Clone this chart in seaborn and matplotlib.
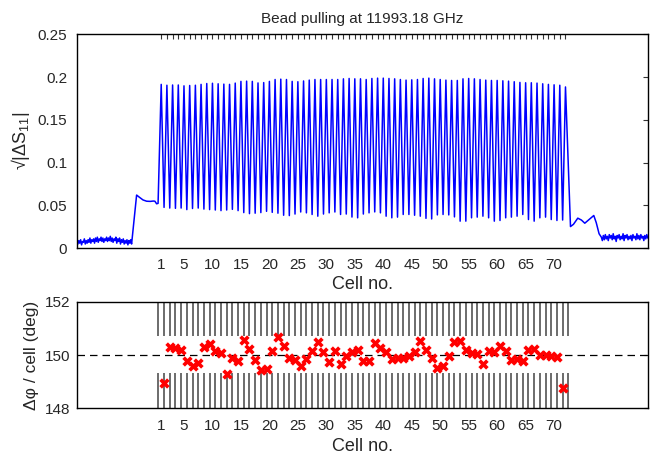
import numpy as np
import pandas as pd
import matplotlib
matplotlib.use("Agg")
import matplotlib.pyplot as plt
import seaborn as sns

# ========================
# DATA
# ========================
cells = list(range(1, 73))

# peak of |dS11|^0.5 in every cell (1..72)
peak_vals = [0.1915, 0.1905, 0.1908, 0.1908, 0.1898, 0.1902, 0.1905, 0.1915, 0.1925, 0.1928, 0.1922,
             0.1918, 0.1915, 0.1930, 0.1950, 0.1953, 0.1950, 0.1932, 0.1936, 0.1950, 0.1972, 0.1976,
             0.1972, 0.1950, 0.1946, 0.1955, 0.1965, 0.1972, 0.1972, 0.1972, 0.1972, 0.1972, 0.1980,
             0.1984, 0.1980, 0.1980, 0.1972, 0.1984, 0.1988, 0.1988, 0.1984, 0.1980, 0.1972, 0.1965,
             0.1968, 0.1972, 0.1984, 0.1988, 0.1980, 0.1972, 0.1965, 0.1961, 0.1961, 0.1980, 0.1984,
             0.1980, 0.1972, 0.1965, 0.1961, 0.1961, 0.1957, 0.1953, 0.1946, 0.1938, 0.1934, 0.1934,
             0.1930, 0.1922, 0.1915, 0.1910, 0.1905, 0.1885]

# minimum between neighbouring cells (1.5..71.5)
trough_vals = [0.0478, 0.0470, 0.0467, 0.0470, 0.0452, 0.0465, 0.0470, 0.0458, 0.0452, 0.0447, 0.0440,
               0.0447, 0.0455, 0.0440, 0.0417, 0.0405, 0.0410, 0.0417, 0.0432, 0.0420, 0.0410, 0.0386,
               0.0382, 0.0400, 0.0424, 0.0414, 0.0395, 0.0375, 0.0400, 0.0414, 0.0424, 0.0395, 0.0400,
               0.0365, 0.0356, 0.0400, 0.0414, 0.0425, 0.0414, 0.0375, 0.0356, 0.0364, 0.0395, 0.0395,
               0.0386, 0.0375, 0.0350, 0.0343, 0.0390, 0.0395, 0.0390, 0.0367, 0.0317, 0.0317, 0.0356,
               0.0364, 0.0375, 0.0356, 0.0317, 0.0325, 0.0356, 0.0364, 0.0375, 0.0395, 0.0336, 0.0317,
               0.0356, 0.0364, 0.0336, 0.0325, 0.0330]

# noisy flat part before the structure
lead_noise = [0.008, 0.005, 0.009, 0.006, 0.010, 0.004, 0.008, 0.007, 0.011, 0.005, 0.009, 0.006,
              0.010, 0.007, 0.012, 0.006, 0.010, 0.008, 0.011, 0.006, 0.012, 0.008, 0.013, 0.007,
              0.011, 0.009, 0.013, 0.008, 0.012, 0.007, 0.011, 0.009, 0.013, 0.008, 0.012, 0.009,
              0.014, 0.008, 0.012, 0.007, 0.011, 0.009, 0.013, 0.006, 0.011, 0.008, 0.012, 0.005,
              0.010, 0.007, 0.011, 0.005, 0.009, 0.006, 0.010, 0.004, 0.009, 0.006, 0.010, 0.005]
# input coupler bump
lead_x = [-3.32, -2.9, -2.2, -1.56, -0.9, -0.4, -0.11, 0.19, 0.45]
lead_y = [0.0622, 0.0600, 0.0565, 0.0550, 0.0548, 0.0552, 0.0550, 0.0520, 0.0525]

# output coupler bump
tail_x = [72.88, 73.4, 74.16, 74.8, 75.39, 76.2, 76.97, 77.4, 77.9]
tail_y = [0.0254, 0.0280, 0.0352, 0.0330, 0.0293, 0.0340, 0.0383, 0.0300, 0.0170]
# noisy flat part after the structure
tail_noise = [0.013, 0.009, 0.015, 0.010, 0.016, 0.011, 0.014, 0.009, 0.016, 0.012, 0.015, 0.010,
              0.017, 0.011, 0.014, 0.008, 0.015, 0.012, 0.016, 0.010, 0.014, 0.011, 0.017, 0.009,
              0.015, 0.012, 0.016, 0.010, 0.014, 0.011, 0.015, 0.009, 0.016, 0.012, 0.014, 0.010,
              0.017, 0.011, 0.015, 0.010, 0.016, 0.012, 0.014, 0.009, 0.015, 0.011, 0.016, 0.012]

# phase advance per cell, measured between cells (k = 1..71)
phase_adv = [148.95, 150.30, 150.25, 150.20, 149.79, 149.60, 149.70, 150.30, 150.42, 150.14, 150.08,
             149.30, 149.89, 149.79, 150.58, 150.22, 149.83, 149.45, 149.48, 150.16, 150.66, 150.35,
             149.89, 149.83, 149.58, 149.85, 150.16, 150.49, 150.11, 149.73, 150.14, 149.68, 149.95,
             150.11, 150.20, 149.76, 149.79, 150.45, 150.26, 150.10, 149.86, 149.89, 149.89, 149.98,
             150.10, 150.51, 150.18, 149.89, 149.51, 149.60, 149.98, 150.48, 150.51, 150.20, 150.08,
             150.04, 149.68, 150.14, 150.10, 150.35, 150.16, 149.83, 149.86, 149.76, 150.20, 150.23,
             150.01, 149.99, 149.95, 149.93, 148.76]
design_phase = 150.0

tick_labels = ["1"] + [str(c) if c % 5 == 0 else "" for c in cells[1:]]
XLIM = (-13.8, 86.45)

# ========================
# BUILD SIGNAL TABLE
# ========================
mid_x, mid_y = [], []
for i, c in enumerate(cells):
    mid_x.append(c)
    mid_y.append(peak_vals[i])
    if i < len(trough_vals):
        mid_x.append(c + 0.5)
        mid_y.append(trough_vals[i])

sig_x = (list(np.linspace(XLIM[0], -4.2, len(lead_noise))) + lead_x + mid_x + tail_x
         + list(np.linspace(78.3, XLIM[1], len(tail_noise))))
sig_y = lead_noise + lead_y + mid_y + tail_y + tail_noise
signal = pd.DataFrame({"pos": sig_x, "amp": sig_y})

phase = pd.DataFrame({"cell": [k + 0.5 for k in range(1, 72)], "dphi": phase_adv})

# ========================
# PLOT
# ========================
sns.set_style("white")
plt.rcParams["font.family"] = ["Liberation Sans", "DejaVu Sans"]
plt.rcParams["mathtext.default"] = "regular"

fig = plt.figure(figsize=(6.52, 4.55), dpi=100)
ax1 = fig.add_axes([0.118, 0.4543, 0.8755, 0.4703])
ax2 = fig.add_axes([0.118, 0.1026, 0.8755, 0.2343])

sns.lineplot(data=signal, x="pos", y="amp", ax=ax1, color="#0000ff", lw=1.1,
             estimator=None, sort=False)
ax1.set_xlim(*XLIM)
ax1.set_ylim(0, 0.25)
ax1.set_yticks([0, 0.05, 0.1, 0.15, 0.2, 0.25])
ax1.set_yticklabels(["0", "0.05", "0.1", "0.15", "0.2", "0.25"])
ax1.set_xticks(cells)
ax1.set_xticklabels(tick_labels)
ax1.tick_params(axis="both", direction="in", top=True, right=True, length=3.5,
                width=0.8, labelsize=11, pad=7, color="#333333")
ax1.set_xlabel("Cell no.", fontsize=13, labelpad=3)
ax1.set_ylabel("√|ΔS$_{11}$|", fontsize=13, labelpad=4)
ax1.set_title("Bead pulling at 11993.18 GHz", fontsize=11, pad=8)

# long tick-like lines at the cell boundaries
bounds = [c - 0.5 for c in cells] + [cells[-1] + 0.5]
ax2.vlines(bounds, 150.7, 152, color="#444444", lw=1.1)
ax2.vlines(bounds, 148, 149.33, color="#444444", lw=1.1)
ax2.axhline(design_phase, color="black", lw=0.9, dashes=(6, 4))
sns.scatterplot(data=phase, x="cell", y="dphi", ax=ax2, marker="X", s=55,
                color="#ff0000", linewidth=0, zorder=5)
ax2.set_xlim(*XLIM)
ax2.set_ylim(148, 152)
ax2.set_yticks([148, 150, 152])
ax2.set_xticks(cells)
ax2.set_xticklabels(tick_labels)
ax2.tick_params(axis="x", length=0, labelsize=11, pad=8)
ax2.tick_params(axis="y", direction="in", right=True, length=3, labelsize=11, pad=5)
ax2.set_xlabel("Cell no.", fontsize=13, labelpad=3)
ax2.set_ylabel("Δφ / cell (deg)", fontsize=12.5, labelpad=4)

for ax in (ax1, ax2):
    for sp in ax.spines.values():
        sp.set_color("black")
        sp.set_linewidth(1.0)

fig.savefig("out.png", dpi=100)
